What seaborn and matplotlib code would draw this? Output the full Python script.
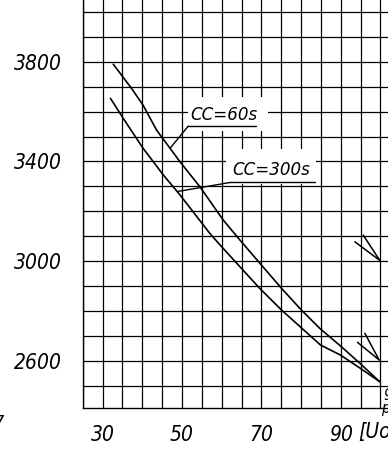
import numpy as np
import pandas as pd
import matplotlib
matplotlib.use('Agg')
import matplotlib.pyplot as plt
import seaborn as sns
from matplotlib.patches import Rectangle
from matplotlib.ticker import MultipleLocator, FixedLocator

# values
x_60 = [32.7, 37.3, 40.2, 43.6, 49.5, 54.5, 60.4, 64.6, 70.0, 75.1, 80.1, 84.7, 90.6, 94.8, 99.8]
y_60 = [3790, 3693, 3626, 3526, 3399, 3299, 3165, 3085, 2985, 2891, 2804, 2731, 2651, 2591, 2517]
x_300 = [32.0, 35.2, 40.2, 45.3, 49.5, 57.0, 59.6, 64.6, 69.6, 75.1, 79.8, 84.9, 89.9, 94.9, 99.8]
y_300 = [3653, 3573, 3453, 3346, 3266, 3112, 3065, 2978, 2891, 2804, 2737, 2664, 2624, 2571, 2517]

series_names = ['CC=60s', 'CC=300s']
x_ticks = [30, 50, 70, 90]
y_ticks = [2600, 3000, 3400, 3800]

df = pd.concat([
    pd.DataFrame({'x': x_60, 'y': y_60, 'cc': series_names[0]}),
    pd.DataFrame({'x': x_300, 'y': y_300, 'cc': series_names[1]}),
])

sns.set_style('white')
plt.rcParams['font.family'] = ['DejaVu Sans']
plt.rcParams['font.style'] = 'oblique'
plt.rcParams['font.stretch'] = 'condensed'
plt.rcParams.update({'text.color': 'black', 'xtick.color': 'black',
                     'ytick.color': 'black', 'axes.labelcolor': 'black'})

fig = plt.figure(figsize=(3.88, 4.5), dpi=100)
ax = fig.add_axes([82.7 / 388, 42 / 450, 1 - 82.7 / 388, 408 / 450])

sns.lineplot(data=df, x='x', y='y', hue='cc', sort=False, legend=False,
             palette={n: 'black' for n in series_names}, linewidth=1.2,
             ax=ax, zorder=3)

ax.set_xlim(25, 101.9)
ax.set_ylim(2411.5, 4047.4)
ax.xaxis.set_major_locator(FixedLocator(x_ticks))
ax.yaxis.set_major_locator(FixedLocator(y_ticks))
ax.xaxis.set_minor_locator(MultipleLocator(5))
ax.yaxis.set_minor_locator(MultipleLocator(100))
ax.grid(which='both', color='black', linewidth=0.9)
ax.set_axisbelow(True)
ax.tick_params(which='major', direction='out', length=10, width=1,
               color='black', labelsize=15)
ax.tick_params(axis='y', pad=5)
ax.tick_params(axis='x', pad=2.5)
ax.tick_params(which='minor', length=0)
ax.set_xlabel('')
ax.set_ylabel('')
for s in ['top', 'right']:
    ax.spines[s].set_visible(False)
for s in ['left', 'bottom']:
    ax.spines[s].set_color('black')
    ax.spines[s].set_linewidth(1)

# labels with white boxes, underline and leader to curve
# (box x0, box x1, box y0, box y1, text x, text y, underline x1, line y, leader x)
ann = [
    (series_names[0], x_60, y_60, 51.5, 71.6, 3522, 3660, 52.0, 3568, 68.6, 3542, 47.0),
    (series_names[1], x_300, y_300, 61.0, 83.7, 3310, 3450, 62.6, 3345, 83.5, 3316, 48.8),
]
for name, xs, ys, bx0, bx1, by0, by1, tx, ty, ux1, uy, lx in ann:
    ax.add_patch(Rectangle((bx0, by0), bx1 - bx0, by1 - by0, facecolor='white',
                           edgecolor='none', zorder=2))
    ax.text(tx, ty, name, fontsize=13.3, va='baseline', ha='left', zorder=4)
    ax.plot([ux1, tx - 0.4], [uy, uy], color='black', lw=1, zorder=4)
    ly = np.interp(lx, xs, ys)
    ax.plot([tx - 0.4, lx], [uy, ly], color='black', lw=1, zorder=4)

# open arrow heads at the right edge
ax.plot([93.55, 99.85, 95.64], [3078, 3003, 3105], color='black', lw=1.1, zorder=4)
ax.plot([94.2, 99.67, 96.07], [2675, 2604, 2711], color='black', lw=1.1, zorder=4)

# cut off texts at the edges
fig.text(358 / 388, 1 - 432 / 450, '[Uo/o]', fontsize=15, va='center')
fig.text(383 / 388, 1 - 395 / 450, '9', fontsize=11, va='center')
fig.text(381 / 388, 1 - 409 / 450, 'p', fontsize=11, va='center')
fig.text(4 / 388, 1 - 423 / 450, '7', fontsize=13, va='center', ha='right')

fig.savefig('out.png', dpi=100)
